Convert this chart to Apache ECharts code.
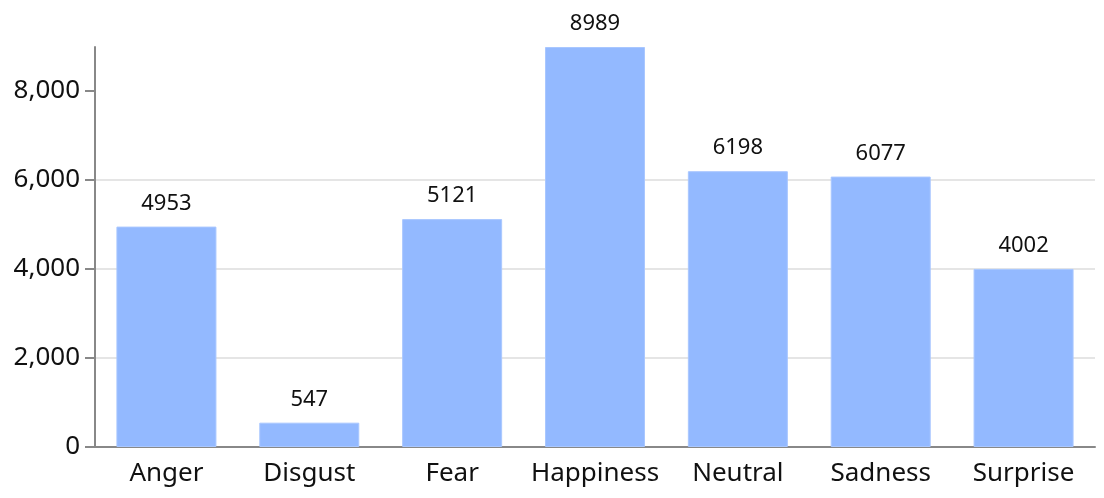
<!DOCTYPE html>
<html><head><meta charset="utf-8">
<script src="https://cdn.jsdelivr.net/npm/echarts@6/dist/echarts.min.js"></script>
<style>html,body{margin:0;padding:0;background:#fff}#c{width:1104px;height:498px}</style>
</head><body><div id="c"></div>
<script>
const categories = ['Anger','Disgust','Fear','Happiness','Neutral','Sadness','Surprise'];
const counts = [4953, 547, 5121, 8989, 6198, 6077, 4002];
const yTicks = [0, 2000, 4000, 6000, 8000];

const FONT = 'Noto Sans';
const chart = echarts.init(document.getElementById('c'));
chart.setOption({
  animation: false,
  textStyle: { fontFamily: FONT },
  grid: { left: 95, right: 9, top: 47, bottom: 51, containLabel: false },
  xAxis: {
    type: 'category', data: categories,
    axisLine: { lineStyle: { color: '#888', width: 2 } },
    axisTick: { alignWithLabel: true, interval: 0, length: 9, lineStyle: { color: '#888', width: 2 } },
    axisLabel: { color: '#111', fontSize: 26, margin: 14, interval: 0, hideOverlap: false, fontFamily: FONT }
  },
  yAxis: {
    type: 'value', min: 0, max: 'dataMax',
    axisLine: { show: true, lineStyle: { color: '#888', width: 2 } },
    axisTick: { show: true, length: 10, customValues: yTicks, lineStyle: { color: '#888', width: 2 } },
    axisLabel: { color: '#111', fontSize: 26, margin: 15, fontFamily: FONT, customValues: yTicks,
      formatter: v => v.toLocaleString('en-US') },
    splitLine: { showMaxLine: false, lineStyle: { color: '#ddd', width: 1.5 } }
  },
  series: [{
    type: 'bar', data: counts, barWidth: '70%',
    itemStyle: { color: '#93b9ff', borderColor: '#a9c7ff', borderWidth: 1 },
    label: { show: true, position: 'top', distance: 12, color: '#111', fontSize: 22, fontFamily: FONT }
  }]
});
</script></body></html>
